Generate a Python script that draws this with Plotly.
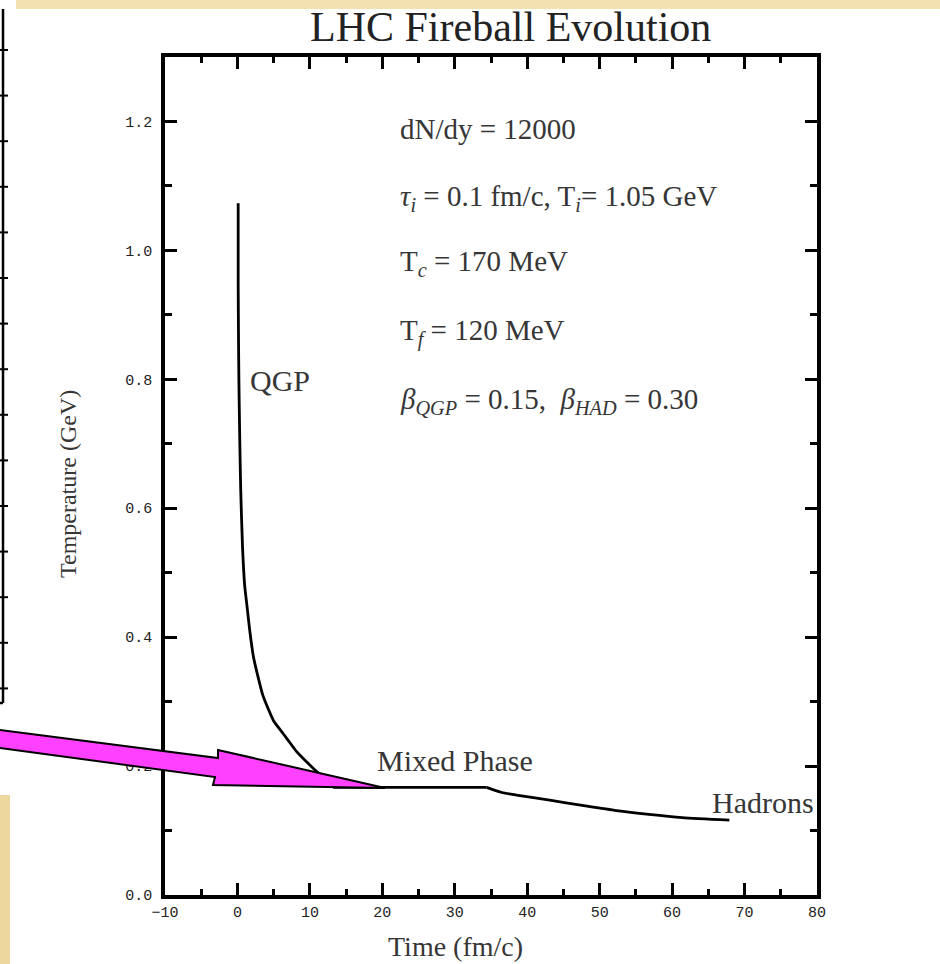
import plotly.graph_objects as go

# ---- data ----
qgp_t = [0.1, 0.1, 0.15, 0.2, 0.3, 0.45, 0.7, 1.0, 1.3, 1.7, 2.2, 2.7, 3.5, 4.2, 5.0, 6.0, 7.0, 8.2, 9.5, 10.7, 12.0, 13.2]
qgp_T = [1.073, 0.95, 0.86, 0.80, 0.72, 0.63, 0.54, 0.48, 0.45, 0.41, 0.37, 0.345, 0.31, 0.29, 0.27, 0.255, 0.24, 0.222, 0.207, 0.194, 0.181, 0.167]
mix_t = [13.2, 34.4]
mix_T = [0.167, 0.167]
had_t = [34.4, 36.5, 38.5, 43.1, 47.6, 52.3, 56.8, 61.4, 67.9]
had_T = [0.167, 0.159, 0.155, 0.147, 0.139, 0.131, 0.125, 0.120, 0.116]

x_ticks = [-10, 0, 10, 20, 30, 40, 50, 60, 70, 80]
y_ticks = [0.0, 0.2, 0.4, 0.6, 0.8, 1.0, 1.2]
y_labels = ["0.0", "0.2", "0.4", "0.6", "0.8", "1.0", "1.2"]

title = "LHC Fireball Evolution"
info_lines = [
    "dN/dy = 12000",
    "<i>τ</i><sub><i>i</i></sub> = 0.1 fm/c, T<sub><i>i</i></sub>= 1.05 GeV",
    "T<sub><i>c</i></sub> = 170 MeV",
    "T<sub><i>f</i></sub> = 120 MeV",
    "<i>β</i><sub><i>QGP</i></sub> = 0.15,  <i>β</i><sub><i>HAD</i></sub> = 0.30",
]
info_T = [1.189, 1.082, 0.980, 0.873, 0.767]
phase_labels = ["QGP", "Mixed Phase", "Hadrons"]
phase_t = [1.4, 19.0, 65.2]
phase_T = [0.798, 0.209, 0.143]

# ---- layout geometry (pixels) ----
W, H = 940, 964
L, R, T, B = 165, 817, 57, 895


def px(x):
    return (x - L) / (R - L)


def py(y):
    return (B - y) / (B - T)


serif = "Liberation Serif"
txt_col = "#363636"

fig = go.Figure()
for xs, ys in [(qgp_t, qgp_T), (mix_t, mix_T), (had_t, had_T)]:
    fig.add_trace(go.Scatter(x=xs, y=ys, mode="lines",
                             line=dict(color="black", width=2.8, shape="spline", smoothing=0.6),
                             showlegend=False, hoverinfo="skip"))

shapes = []
# background decorations
shapes.append(dict(type="rect", xref="paper", yref="paper", x0=px(16), x1=px(940), y0=py(9), y1=py(0),
                   fillcolor="#F3E1B0", line=dict(width=0), layer="below"))
shapes.append(dict(type="rect", xref="paper", yref="paper", x0=px(0), x1=px(10), y0=py(964), y1=py(795),
                   fillcolor="#EDD79F", line=dict(width=0), layer="below"))
# remnant frame of neighbouring plot
shapes.append(dict(type="line", xref="paper", yref="paper", x0=px(3), x1=px(3), y0=py(9), y1=py(703),
                   line=dict(color="black", width=2.5)))
shapes.append(dict(type="line", xref="paper", yref="paper", x0=px(0), x1=px(3), y0=py(703), y1=py(703),
                   line=dict(color="black", width=2.5)))
for k in range(15):
    yy = 50 + 45.6 * k
    shapes.append(dict(type="line", xref="paper", yref="paper", x0=px(0), x1=px(8), y0=py(yy), y1=py(yy),
                       line=dict(color="black", width=2)))

# magenta block arrow
pts = [(-5, 729.4), (218, 758), (218, 750), (385, 788), (213, 785), (215, 777), (-5, 747.3)]
path = "M " + " L ".join(f"{px(a):.5f},{py(b):.5f}" for a, b in pts) + " Z"
shapes.append(dict(type="path", xref="paper", yref="paper", path=path,
                   fillcolor="#FF40FF", line=dict(color="black", width=2), layer="above"))

annotations = []
annotations.append(dict(text=title, xref="paper", yref="paper", x=px(510), y=py(27),
                        showarrow=False, font=dict(family=serif, size=42, color="#222"),
                        xanchor="center", yanchor="middle"))
for line, tv in zip(info_lines, info_T):
    annotations.append(dict(text=line, x=22.2, y=tv, xref="x", yref="y", showarrow=False,
                            xanchor="left", yanchor="middle",
                            font=dict(family=serif, size=29, color=txt_col)))
for lab, tv, Tv in zip(phase_labels, phase_t, phase_T):
    annotations.append(dict(text=lab, x=tv, y=Tv, xref="x", yref="y", showarrow=False,
                            xanchor="left", yanchor="middle",
                            font=dict(family=serif, size=30, color=txt_col)))
annotations.append(dict(text="Time (fm/c)", xref="paper", yref="paper", x=px(455), y=py(946),
                        showarrow=False, xanchor="center", yanchor="middle",
                        font=dict(family=serif, size=28, color=txt_col)))
annotations.append(dict(text="Temperature (GeV)", xref="paper", yref="paper", x=px(68), y=py(484),
                        showarrow=False, xanchor="center", yanchor="middle", textangle=-90,
                        font=dict(family=serif, size=24, color=txt_col)))

axis_common = dict(showline=True, linewidth=3.5, linecolor="black", mirror="ticks",
                   ticks="inside", ticklen=12, tickwidth=3, tickcolor="black",
                   showgrid=False, zeroline=False,
                   tickfont=dict(family="Liberation Mono", size=15, color="#222"))

fig.update_layout(
    width=W, height=H,
    margin=dict(l=L, r=W - R, t=T, b=H - B, autoexpand=False),
    paper_bgcolor="white", plot_bgcolor="white",
    xaxis=dict(range=[-10, 80], tickvals=x_ticks, ticklabelstandoff=0,
               minor=dict(dtick=5, ticks="inside", ticklen=6, tickwidth=3, tickcolor="black"),
               **axis_common),
    yaxis=dict(range=[0, 1.3], tickvals=y_ticks, ticktext=y_labels, ticklabelstandoff=6,
               minor=dict(dtick=0.1, ticks="inside", ticklen=7, tickwidth=3, tickcolor="black"),
               **axis_common),
    shapes=shapes, annotations=annotations,
)

fig.write_html("out.html")
